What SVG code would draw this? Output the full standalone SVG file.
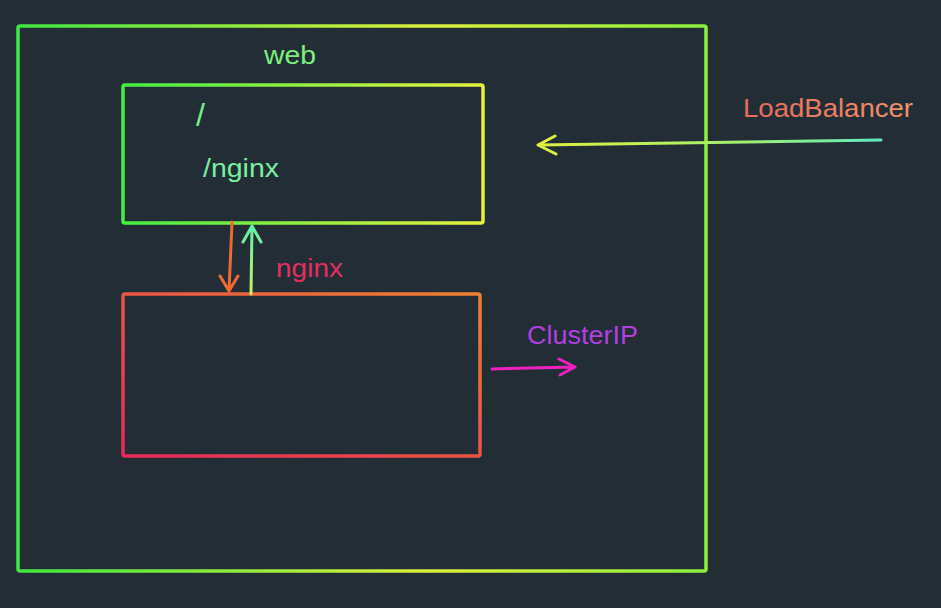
<svg xmlns="http://www.w3.org/2000/svg" width="941" height="608" viewBox="0 0 941 608">
<defs>
<linearGradient id="gOuter" x1="0" y1="0" x2="1" y2="0">
<stop offset="0" stop-color="#3fe83f"/>
<stop offset="0.6" stop-color="#dcee3a"/>
<stop offset="1" stop-color="#8cf03c"/>
</linearGradient>
<linearGradient id="gWeb" x1="0" y1="0" x2="1" y2="0">
<stop offset="0" stop-color="#44ee44"/>
<stop offset="1" stop-color="#e4f040"/>
</linearGradient>
<linearGradient id="gNginx" x1="1" y1="0" x2="0" y2="1">
<stop offset="0" stop-color="#f08030"/>
<stop offset="1" stop-color="#e8285a"/>
</linearGradient>
<linearGradient id="gLB" x1="881" y1="0" x2="538" y2="0" gradientUnits="userSpaceOnUse">
<stop offset="0" stop-color="#60e8c0"/>
<stop offset="0.4" stop-color="#a0f070"/>
<stop offset="1" stop-color="#e0f040"/>
</linearGradient>
<linearGradient id="gUp" x1="0" y1="294" x2="0" y2="226" gradientUnits="userSpaceOnUse">
<stop offset="0" stop-color="#c8f060"/>
<stop offset="1" stop-color="#60f0a8"/>
</linearGradient>
<linearGradient id="gLBText" x1="0" y1="0" x2="1" y2="0">
<stop offset="0" stop-color="#e86a5a"/>
<stop offset="1" stop-color="#f0946a"/>
</linearGradient>
</defs>
<style>
.box{fill:none;stroke-width:3.5;}
.conn{fill:none;stroke-width:3;stroke-linecap:round;stroke-linejoin:round;}
text{font-family:"Liberation Sans",Arial,sans-serif;font-size:26px;}
</style>
<rect width="941" height="608" fill="#232d36"/>
<g id="web-outer">
<rect class="box" x="18" y="26" width="688" height="545" rx="2" stroke="url(#gOuter)"/>
<text x="264" y="64" fill="#7cf07c" textLength="52" lengthAdjust="spacingAndGlyphs">web</text>
</g>
<g id="ingress">
<rect class="box" x="123" y="85" width="360" height="138" rx="2" stroke="url(#gWeb)"/>
<text x="196" y="126" fill="#78f088" style="font-size:32px">/</text>
<text x="203" y="177" fill="#78f0a0" textLength="76" lengthAdjust="spacingAndGlyphs">/nginx</text>
</g>
<g id="nginx">
<rect class="box" x="123" y="294" width="357" height="162" rx="2" stroke="url(#gNginx)"/>
<text x="276" y="277" fill="#e0305e" textLength="67" lengthAdjust="spacingAndGlyphs">nginx</text>
</g>
<g id="loadbalancer">
<text x="743" y="117" fill="url(#gLBText)" textLength="170" lengthAdjust="spacingAndGlyphs">LoadBalancer</text>
</g>
<g id="clusterip">
<text x="527" y="344" fill="#b040e0" textLength="111" lengthAdjust="spacingAndGlyphs">ClusterIP</text>
</g>
<g id="connectors">
<path class="conn" d="M881 140 L538 145 M555 136 L538 145 L556 154" stroke="url(#gLB)"/>
<path class="conn" d="M232 222 L229 291 M220 276 L229 291 L238 276" stroke="#f06a30"/>
<path class="conn" d="M251 294 L252 226 M243 242 L252 226 L261 242" stroke="url(#gUp)"/>
<path class="conn" d="M492 369 L575 367 M559 359 L575 367 L560 375" stroke="#f020c0"/>
</g>
</svg>
